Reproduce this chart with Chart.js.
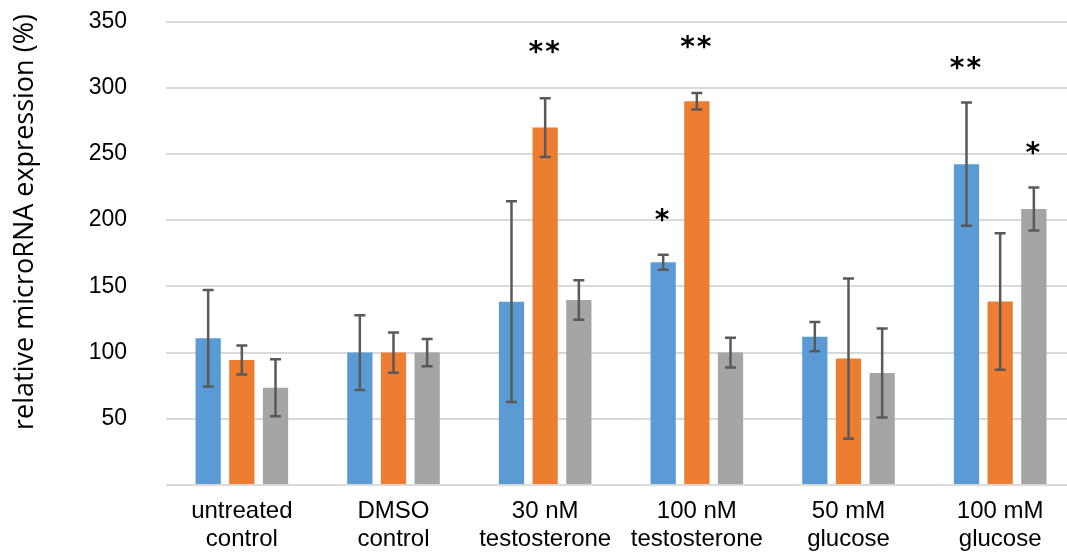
<!DOCTYPE html>
<html>
<head>
<meta charset="utf-8">
<script src="https://cdn.jsdelivr.net/npm/chart.js@4"></script>
<style>
  html, body { margin: 0; padding: 0; background: #ffffff; overflow: hidden; }
  #wrap { position: relative; width: 1080px; height: 552px; }
</style>
</head>
<body>
<div id="wrap"><canvas id="c"></canvas></div>
<script>
// ---- data ----
const categories = [
  ['untreated', 'control'],
  ['DMSO', 'control'],
  ['30 nM', 'testosterone'],
  ['100 nM', 'testosterone'],
  ['50 mM', 'glucose'],
  ['100 mM', 'glucose']
];
const yTickValues = [50, 100, 150, 200, 250, 300, 350];
const yTitle = 'relative microRNA expression (%)';

const blueValues   = [110.8, 100, 138.4, 168.2, 112, 242.3];
const blueErrors   = [36.5, 28.2, 75.8, 5.6, 11, 46.5];
const blueSig      = ['', '', '', '*', '', '**'];

const orangeValues = [94.4, 100, 269.9, 289.8, 95.5, 138.6];
const orangeErrors = [11, 15.2, 22.2, 6.3, 60.5, 51.5];
const orangeSig    = ['', '', '**', '**', '', ''];

const grayValues   = [73.5, 100, 139.7, 100, 84.5, 208.4];
const grayErrors   = [21.5, 10.3, 15, 11.2, 33.6, 16.3];
const graySig      = ['', '', '', '', '', '*'];

// ---- plugins ----
const errorBarPlugin = {
  id: 'errorBars',
  afterDatasetsDraw(chart) {
    const ctx = chart.ctx;
    const y = chart.scales.y;
    chart.data.datasets.forEach((ds, i) => {
      const meta = chart.getDatasetMeta(i);
      meta.data.forEach((bar, j) => {
        const v = ds.data[j], e = ds.errors[j];
        const yt = y.getPixelForValue(v + e);
        const yb = y.getPixelForValue(v - e);
        const x = bar.x;
        ctx.save();
        ctx.strokeStyle = '#595959';
        ctx.lineWidth = 2.5;
        ctx.beginPath();
        ctx.moveTo(x, yt); ctx.lineTo(x, yb);
        ctx.moveTo(x - 5.5, yt); ctx.lineTo(x + 5.5, yt);
        ctx.moveTo(x - 5.5, yb); ctx.lineTo(x + 5.5, yb);
        ctx.stroke();
        const s = ds.sig[j];
        if (s) {
          ctx.fillStyle = '#000';
          ctx.font = 'bold 28px "DejaVu Sans"';
          ctx.textAlign = 'center';
          ctx.textBaseline = 'middle';
          ctx.letterSpacing = '2px';
          ctx.fillText(s, x, yt - ds.sigGap + 6);
        }
        ctx.restore();
      });
    });
  }
};

const yTitlePlugin = {
  id: 'yTitle',
  afterDraw(chart) {
    const ctx = chart.ctx;
    ctx.save();
    ctx.translate(33, 222);
    ctx.rotate(-Math.PI / 2);
    ctx.font = '27px "Open Sans"';
    ctx.fillStyle = '#000';
    ctx.textAlign = 'center';
    ctx.textBaseline = 'alphabetic';
    ctx.fillText(yTitle, 0, 0);
    ctx.restore();
  }
};

new Chart(document.getElementById('c'), {
  type: 'bar',
  data: {
    labels: categories,
    datasets: [
      { data: blueValues, errors: blueErrors, sig: blueSig, sigGap: 39, backgroundColor: '#5B9BD5' },
      { data: orangeValues, errors: orangeErrors, sig: orangeSig, sigGap: 50, backgroundColor: '#ED7D31' },
      { data: grayValues, errors: grayErrors, sig: graySig, sigGap: 39, backgroundColor: '#A5A5A5' }
    ]
  },
  options: {
    responsive: true,
    maintainAspectRatio: false,
    animation: false,
    devicePixelRatio: 1,
    layout: { padding: { top: 21.5, right: 4, left: 0, bottom: 0 } },
    categoryPercentage: 0.666,
    barPercentage: 0.75,
    plugins: { legend: { display: false }, tooltip: { enabled: false } },
    scales: {
      x: {
        grid: { display: false, drawTicks: false },
        border: { display: false },
        ticks: {
          color: '#000',
          font: { family: '"Liberation Sans", Arial, sans-serif', size: 24, lineHeight: 1.17 },
          padding: 12,
          maxRotation: 0,
          autoSkip: false
        },
        afterFit(s) { s.height = 67; s.paddingLeft = 0; s.paddingRight = 0; }
      },
      y: {
        min: 0,
        max: 350,
        afterBuildTicks(s) { s.ticks = [0].concat(yTickValues).map(v => ({ value: v })); },
        grid: { color: '#d9d9d9', lineWidth: 2, drawTicks: false },
        border: { display: false },
        ticks: {
          color: '#000',
          font: { family: '"Liberation Sans", Arial, sans-serif', size: 23 },
          padding: 39,
          callback: v => (v === 0 ? '' : v)
        },
        afterFit(s) { s.width = 166; s.paddingTop = 0; s.paddingBottom = 0; }
      }
    }
  },
  plugins: [errorBarPlugin, yTitlePlugin]
});
</script>
</body>
</html>
